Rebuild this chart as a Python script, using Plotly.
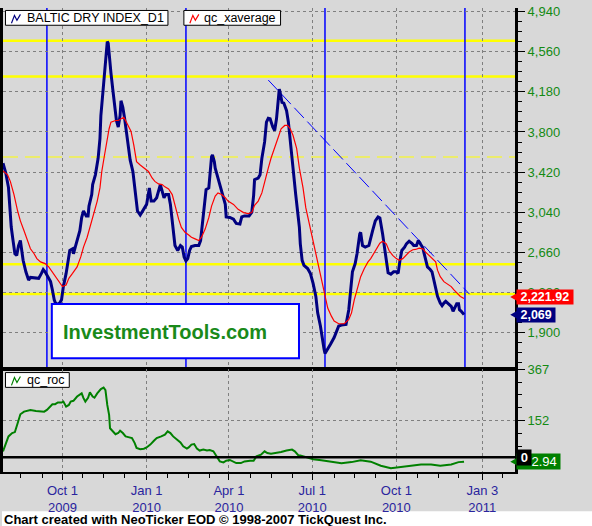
import plotly.graph_objects as go

W, H = 592, 526

# ---------------- data ----------------
bdi_dates = [
    "2009-07-28", "2009-07-31", "2009-08-03", "2009-08-04", "2009-08-06", "2009-08-08", "2009-08-10",
    "2009-08-12", "2009-08-14", "2009-08-16", "2009-08-17", "2009-08-19", "2009-08-22", "2009-08-25",
    "2009-08-27", "2009-08-31", "2009-09-05", "2009-09-08", "2009-09-10", "2009-09-12", "2009-09-15",
    "2009-09-18", "2009-09-20", "2009-09-22", "2009-09-24", "2009-09-28", "2009-09-30", "2009-10-02",
    "2009-10-05", "2009-10-07", "2009-10-09", "2009-10-12", "2009-10-13", "2009-10-15", "2009-10-17",
    "2009-10-20", "2009-10-22", "2009-10-24", "2009-10-27", "2009-10-29", "2009-10-30", "2009-11-02",
    "2009-11-03", "2009-11-06", "2009-11-09", "2009-11-11", "2009-11-12", "2009-11-14", "2009-11-16",
    "2009-11-18", "2009-11-19", "2009-11-20", "2009-11-21", "2009-11-23", "2009-11-25", "2009-11-27",
    "2009-11-29", "2009-12-01", "2009-12-03", "2009-12-04", "2009-12-06", "2009-12-08", "2009-12-10",
    "2009-12-12", "2009-12-14", "2009-12-17", "2009-12-20", "2009-12-22", "2009-12-25", "2009-12-29",
    "2010-01-01", "2010-01-04", "2010-01-06", "2010-01-09", "2010-01-12", "2010-01-16", "2010-01-18",
    "2010-01-20", "2010-01-22", "2010-01-25", "2010-01-27", "2010-01-29", "2010-01-30", "2010-02-01",
    "2010-02-04", "2010-02-07", "2010-02-09", "2010-02-11", "2010-02-13", "2010-02-15", "2010-02-17",
    "2010-02-19", "2010-02-23", "2010-02-27", "2010-03-01", "2010-03-03", "2010-03-05", "2010-03-07",
    "2010-03-10", "2010-03-11", "2010-03-13", "2010-03-14", "2010-03-16", "2010-03-17", "2010-03-19",
    "2010-03-22", "2010-03-25", "2010-03-28", "2010-03-29", "2010-04-02", "2010-04-06", "2010-04-09",
    "2010-04-13", "2010-04-15", "2010-04-18", "2010-04-23", "2010-04-26", "2010-04-28", "2010-04-29",
    "2010-05-03", "2010-05-05", "2010-05-07", "2010-05-10", "2010-05-12", "2010-05-14", "2010-05-16",
    "2010-05-19", "2010-05-21", "2010-05-23", "2010-05-25", "2010-05-26", "2010-05-27", "2010-05-29",
    "2010-05-31", "2010-06-03", "2010-06-05", "2010-06-07", "2010-06-09", "2010-06-11", "2010-06-13",
    "2010-06-15", "2010-06-17", "2010-06-18", "2010-06-20", "2010-06-22", "2010-06-26", "2010-06-29",
    "2010-07-02", "2010-07-05", "2010-07-07", "2010-07-10", "2010-07-12", "2010-07-14", "2010-07-15",
    "2010-07-18", "2010-07-21", "2010-07-25", "2010-07-27", "2010-07-30", "2010-08-02", "2010-08-07",
    "2010-08-10", "2010-08-12", "2010-08-14", "2010-08-17", "2010-08-19", "2010-08-22", "2010-08-23",
    "2010-08-25", "2010-08-28", "2010-09-01", "2010-09-03", "2010-09-05", "2010-09-08", "2010-09-11",
    "2010-09-13", "2010-09-14", "2010-09-16", "2010-09-18", "2010-09-20", "2010-09-22", "2010-09-25",
    "2010-09-28", "2010-10-01", "2010-10-03", "2010-10-05", "2010-10-07", "2010-10-10", "2010-10-12",
    "2010-10-15", "2010-10-18", "2010-10-20", "2010-10-23", "2010-10-25", "2010-10-27", "2010-10-30",
    "2010-10-31", "2010-11-02", "2010-11-04", "2010-11-07", "2010-11-09", "2010-11-11", "2010-11-13",
    "2010-11-15", "2010-11-18", "2010-11-20", "2010-11-22", "2010-11-24", "2010-11-27", "2010-11-30",
    "2010-12-02", "2010-12-04", "2010-12-06", "2010-12-08", "2010-12-09", "2010-12-11", "2010-12-14",
]
bdi_values = [
    3504, 3413, 3273, 3114, 2899, 2771, 2646,
    2631, 2724, 2771, 2712, 2584, 2475, 2397,
    2422, 2418, 2413, 2460, 2497, 2475, 2429,
    2382, 2303, 2210, 2163, 2179, 2210, 2335,
    2460, 2553, 2677, 2693, 2646, 2709, 2771,
    2864, 2990, 3051, 3005, 3005, 3098, 3207,
    3301, 3394, 3551, 3738, 3956, 4173, 4392,
    4610, 4657, 4641, 4516, 4360, 4205, 4049,
    3909, 3846, 3956, 4096, 4033, 3925, 3799,
    3644, 3535, 3425, 3207, 3051, 3014, 3067,
    3114, 3270, 3145, 3145, 3177, 3301, 3238,
    3177, 3207, 3207, 3114, 2958, 2834, 2724,
    2677, 2724, 2709, 2616, 2578, 2600, 2677,
    2715, 2724, 2724, 2771, 2927, 3114, 3254,
    3270, 3364, 3566, 3582, 3519, 3457, 3394,
    3301, 3207, 3114, 2995, 2990, 2974, 2933,
    2927, 2995, 3005, 3005, 3040, 3200, 3348,
    3364, 3394, 3551, 3706, 3893, 3930, 3925,
    3846, 3815, 3925, 4112, 4205, 4173, 4080,
    4074, 4002, 3893, 3706, 3551, 3394, 3207,
    3051, 2896, 2740, 2584, 2537, 2506, 2460,
    2366, 2242, 2086, 1961, 1836, 1742, 1702,
    1742, 1789, 1852, 1898, 1961, 1970, 1976,
    2116, 2335, 2475, 2553, 2646, 2834, 2849,
    2724, 2709, 2724, 2803, 2864, 2958, 2995,
    2985, 2943, 2834, 2709, 2584, 2466, 2453,
    2475, 2475, 2460, 2584, 2677, 2709, 2740,
    2765, 2746, 2724, 2724, 2771, 2746, 2703,
    2662, 2600, 2522, 2497, 2475, 2397, 2303,
    2242, 2179, 2154, 2179, 2195, 2172, 2148,
    2101, 2132, 2172, 2172, 2116, 2101, 2069,
]

avg_dates = [
    "2009-07-28", "2009-08-02", "2009-08-05", "2009-08-09", "2009-08-13", "2009-08-16", "2009-08-20",
    "2009-08-24", "2009-08-27", "2009-08-31", "2009-09-03", "2009-09-07", "2009-09-12", "2009-09-16",
    "2009-09-20", "2009-09-23", "2009-09-27", "2009-10-01", "2009-10-05", "2009-10-08", "2009-10-12",
    "2009-10-17", "2009-10-21", "2009-10-24", "2009-10-28", "2009-10-31", "2009-11-04", "2009-11-08",
    "2009-11-11", "2009-11-13", "2009-11-16", "2009-11-19", "2009-11-21", "2009-11-23", "2009-11-28",
    "2009-12-01", "2009-12-04", "2009-12-07", "2009-12-09", "2009-12-12", "2009-12-15", "2009-12-18",
    "2009-12-21", "2009-12-25", "2009-12-30", "2010-01-03", "2010-01-07", "2010-01-10", "2010-01-14",
    "2010-01-18", "2010-01-21", "2010-01-25", "2010-01-29", "2010-02-01", "2010-02-05", "2010-02-08",
    "2010-02-12", "2010-02-16", "2010-02-19", "2010-02-23", "2010-02-27", "2010-03-02", "2010-03-06",
    "2010-03-10", "2010-03-13", "2010-03-17", "2010-03-20", "2010-03-24", "2010-03-28", "2010-03-31",
    "2010-04-06", "2010-04-11", "2010-04-17", "2010-04-22", "2010-04-26", "2010-04-29", "2010-05-03",
    "2010-05-07", "2010-05-10", "2010-05-14", "2010-05-17", "2010-05-21", "2010-05-25", "2010-05-28",
    "2010-06-01", "2010-06-04", "2010-06-07", "2010-06-10", "2010-06-14", "2010-06-17", "2010-06-21",
    "2010-06-24", "2010-06-28", "2010-07-02", "2010-07-05", "2010-07-09", "2010-07-13", "2010-07-15",
    "2010-07-18", "2010-07-22", "2010-07-25", "2010-07-30", "2010-08-05", "2010-08-10", "2010-08-13",
    "2010-08-16", "2010-08-20", "2010-08-23", "2010-08-27", "2010-08-31", "2010-09-03", "2010-09-07",
    "2010-09-11", "2010-09-13", "2010-09-16", "2010-09-20", "2010-09-23", "2010-09-27", "2010-10-01",
    "2010-10-04", "2010-10-08", "2010-10-11", "2010-10-15", "2010-10-19", "2010-10-22", "2010-10-26",
    "2010-10-30", "2010-11-02", "2010-11-06", "2010-11-09", "2010-11-13", "2010-11-15", "2010-11-18",
    "2010-11-22", "2010-11-26", "2010-11-30", "2010-12-03", "2010-12-07", "2010-12-10", "2010-12-14",
]
avg_values = [
    3432, 3394, 3332, 3207, 3051, 2958, 2864,
    2771, 2693, 2646, 2600, 2569, 2553, 2522,
    2475, 2429, 2382, 2335, 2350, 2413, 2460,
    2522, 2616, 2709, 2803, 2896, 3020, 3145,
    3270, 3426, 3582, 3738, 3831, 3893, 3909,
    3909, 3925, 3940, 3909, 3862, 3806, 3675,
    3519, 3488, 3457, 3426, 3364, 3332, 3308,
    3301, 3280, 3261, 3207, 3098, 2974, 2896,
    2849, 2824, 2803, 2787, 2771, 2803, 2880,
    2990, 3098, 3192, 3223, 3207, 3177, 3145,
    3114, 3067, 3036, 3027, 3036, 3105, 3145,
    3223, 3332, 3457, 3551, 3644, 3753, 3831,
    3862, 3862, 3831, 3769, 3644, 3457, 3270,
    3083, 2927, 2771, 2631, 2491, 2350, 2242,
    2132, 2055, 2008, 1983, 1983, 2023, 2086,
    2210, 2335, 2429, 2506, 2569, 2600, 2662,
    2724, 2746, 2765, 2740, 2677, 2631, 2600,
    2584, 2600, 2631, 2662, 2684, 2687, 2700,
    2693, 2662, 2631, 2600, 2569, 2491, 2429,
    2382, 2360, 2335, 2303, 2272, 2242, 2221.92,
]

roc_dates = [
    "2009-07-28", "2009-07-31", "2009-08-03", "2009-08-07", "2009-08-10", "2009-08-13", "2009-08-16",
    "2009-08-20", "2009-08-24", "2009-08-27", "2009-09-02", "2009-09-07", "2009-09-11", "2009-09-14",
    "2009-09-18", "2009-09-20", "2009-09-23", "2009-09-26", "2009-09-30", "2009-10-02", "2009-10-05",
    "2009-10-08", "2009-10-10", "2009-10-13", "2009-10-17", "2009-10-21", "2009-10-22", "2009-10-24",
    "2009-10-26", "2009-10-29", "2009-10-31", "2009-11-03", "2009-11-05", "2009-11-08", "2009-11-10",
    "2009-11-12", "2009-11-15", "2009-11-17", "2009-11-19", "2009-11-21", "2009-11-22", "2009-11-25",
    "2009-11-28", "2009-12-01", "2009-12-03", "2009-12-06", "2009-12-09", "2009-12-12", "2009-12-16",
    "2009-12-19", "2009-12-21", "2009-12-25", "2009-12-29", "2010-01-01", "2010-01-05", "2010-01-09",
    "2010-01-12", "2010-01-17", "2010-01-21", "2010-01-24", "2010-01-27", "2010-01-30", "2010-02-03",
    "2010-02-07", "2010-02-10", "2010-02-14", "2010-02-16", "2010-02-19", "2010-02-22", "2010-02-25",
    "2010-02-28", "2010-03-04", "2010-03-08", "2010-03-11", "2010-03-15", "2010-03-19", "2010-03-22",
    "2010-03-26", "2010-03-29", "2010-04-02", "2010-04-06", "2010-04-09", "2010-04-14", "2010-04-18",
    "2010-04-24", "2010-04-28", "2010-05-01", "2010-05-06", "2010-05-10", "2010-05-13", "2010-05-17",
    "2010-05-23", "2010-05-28", "2010-06-03", "2010-06-09", "2010-06-12", "2010-06-16", "2010-06-18",
    "2010-06-24", "2010-07-02", "2010-07-11", "2010-07-22", "2010-08-02", "2010-08-13", "2010-08-23",
    "2010-09-03", "2010-09-14", "2010-09-25", "2010-10-06", "2010-10-17", "2010-10-28", "2010-11-08",
    "2010-11-18", "2010-11-30", "2010-12-08", "2010-12-14",
]
roc_values = [
    25, 53, 87, 101, 105, 142, 179,
    190, 195, 197, 193, 190, 190, 197,
    211, 221, 221, 228, 228, 232, 211,
    218, 232, 235, 253, 266, 266, 246,
    232, 248, 270, 253, 248, 266, 276,
    284, 290, 280, 218, 177, 121, 108,
    96, 101, 111, 101, 87, 84, 80,
    59, 39, 34, 36, 41, 53, 69,
    80, 87, 94, 108, 101, 87, 73,
    62, 46, 36, 41, 53, 55, 36,
    28, 32, 28, 30, 25, 4, -17,
    -21, -14, -11, -17, -24, -24, -17,
    -14, -14, 4, 11, 25, 18, 15,
    18, 22, 28, 32, 25, 8, 8,
    0, -8, -12, -20, -25, -20, -12,
    -18, -35, -45, -40, -35, -30, -30,
    -35, -30, -20, -18,
]

price_ticks = [1900, 2280, 2660, 3040, 3420, 3800, 4180, 4560, 4940]
roc_ticks = [152, 367]
x_tick_dates = ["2009-10-01", "2010-01-01", "2010-04-01", "2010-07-01", "2010-10-01", "2011-01-03"]
x_tick_text = ["Oct 1<br>2009", "Jan 1<br>2010", "Apr 1<br>2010", "Jul 1<br>2010", "Oct 1<br>2010", "Jan 3<br>2011"]
x_minor_dates = ["2009-08-16", "2009-09-09", "2009-10-23", "2009-11-15", "2009-12-08", "2010-01-24",
                 "2010-02-16", "2010-03-11", "2010-04-25", "2010-05-17", "2010-06-09", "2010-07-25",
                 "2010-08-16", "2010-09-08", "2010-10-24", "2010-11-16", "2010-12-08", "2011-01-25"]
yellow_levels = [4665, 4325, 2547, 2266]
yellow_dashed_level = 3563
cycle_dates = ["2009-09-14", "2010-02-13", "2010-07-15", "2010-12-15"]
trend_dates = ["2010-05-14", "2010-12-20"]
trend_values = [4292, 2263]
roc_last_label = "2.94"

x_range = ["2009-07-28", "2011-02-08"]
price_range = [1553, 4975]
roc_range = [-60, 367]

# ---------------- layout helpers ----------------
def px(x):
    return x / W

def py(y):
    return 1 - y / H

FONT = "Arial, Liberation Sans, sans-serif"
BG = "#d8d8d8"
GRID = "#7f7f7f"
AXIS_GREEN = "#138a13"
DATE_BLUE = "#2a249e"

fig = go.Figure()

fig.add_trace(go.Scatter(x=trend_dates, y=trend_values, mode="lines",
                         line=dict(color="#0000ff", width=1, dash="14px,5px"),
                         xaxis="x", yaxis="y", hoverinfo="skip"))
fig.add_trace(go.Scatter(x=bdi_dates, y=bdi_values, mode="lines",
                         line=dict(color="#000080", width=3),
                         xaxis="x", yaxis="y", name="BALTIC DRY INDEX_D1"))
fig.add_trace(go.Scatter(x=avg_dates, y=avg_values, mode="lines",
                         line=dict(color="#ff0000", width=1.2),
                         xaxis="x", yaxis="y", name="qc_xaverage"))
fig.add_trace(go.Scatter(x=roc_dates, y=roc_values, mode="lines",
                         line=dict(color="#008000", width=2),
                         xaxis="x2", yaxis="y2", name="qc_roc"))

shapes = []
# footer strip
shapes.append(dict(type="rect", xref="paper", yref="paper", x0=0, x1=1, y0=0, y1=py(511),
                   fillcolor="white", line=dict(width=0), layer="below"))
# yellow levels
for lv in yellow_levels:
    shapes.append(dict(type="line", xref="x domain", yref="y", x0=0, x1=1, y0=lv, y1=lv,
                       line=dict(color="#ffff00", width=2.5), layer="below"))
shapes.append(dict(type="line", xref="x domain", yref="y", x0=0, x1=1,
                   y0=yellow_dashed_level, y1=yellow_dashed_level,
                   line=dict(color="#ffff00", width=1, dash="15px,7px"), layer="below"))
# vertical cycle lines
for d in cycle_dates:
    shapes.append(dict(type="line", xref="x", yref="y domain", x0=d, x1=d, y0=0, y1=1,
                       line=dict(color="#0000ff", width=1.5), layer="below"))
# zero line of ROC panel
shapes.append(dict(type="line", xref="x2 domain", yref="y2", x0=0, x1=1, y0=0, y1=0,
                   line=dict(color="black", width=2.5)))
# legend boxes
for (x0, y0, x1, y1) in [(3.5, 3.5, 166.5, 18.5), (182.5, 3.5, 279.5, 18.5), (3.5, 370.5, 67.5, 385.5)]:
    shapes.append(dict(type="rect", xref="paper", yref="paper", x0=px(x0), x1=px(x1),
                       y0=py(y1), y1=py(y0), fillcolor="white", line=dict(color="black", width=1)))
# legend icons
def icon(x, y, color):
    pts = [(x, y + 5), (x + 3, y - 3), (x + 5.5, y + 2), (x + 9, y - 4)]
    path = "M " + " L ".join(f"{px(a):.5f},{py(b):.5f}" for a, b in pts)
    return dict(type="path", xref="paper", yref="paper", path=path, line=dict(color=color, width=1.2))
shapes.append(icon(9.5, 11.5, "#000080"))
shapes.append(icon(188.5, 11.5, "#ff0000"))
shapes.append(icon(9.5, 378.5, "#008000"))
# logo box
shapes.append(dict(type="rect", xref="paper", yref="paper", x0=px(50), x1=px(298), y0=py(356), y1=py(301),
                   fillcolor="white", line=dict(color="#0000ff", width=2)))

def price_to_px(v):
    return 1 + (price_range[1] - v) / (price_range[1] - price_range[0]) * (367 - 1)

def roc_to_px(v):
    return 367 + (roc_range[1] - v) / (roc_range[1] - roc_range[0]) * (471 - 367)

# badge arrows
def arrow(yc_px, color):
    path = (f"M {px(517):.5f},{py(yc_px - 4):.5f} L {px(510):.5f},{py(yc_px):.5f} "
            f"L {px(517):.5f},{py(yc_px + 4):.5f} Z")
    return dict(type="path", xref="paper", yref="paper", path=path, fillcolor=color, line=dict(width=0))

red_y = price_to_px(avg_values[-1]) - 1.5
navy_y = max(price_to_px(bdi_values[-1]), red_y + 18)
green_y = roc_to_px(roc_values[-1])
shapes.append(arrow(red_y, "#ff0000"))
shapes.append(arrow(navy_y, "#000080"))
shapes.append(arrow(green_y, "#008000"))

annotations = []
annotations.append(dict(x=px(23), y=py(11), xref="paper", yref="paper", text="BALTIC DRY INDEX_D1",
                        showarrow=False, xanchor="left", yanchor="middle",
                        font=dict(family=FONT, size=12.5, color="black")))
annotations.append(dict(x=px(201), y=py(11), xref="paper", yref="paper", text="qc_xaverage",
                        showarrow=False, xanchor="left", yanchor="middle",
                        font=dict(family=FONT, size=12.5, color="black")))
annotations.append(dict(x=px(23), y=py(378), xref="paper", yref="paper", text="qc_roc",
                        showarrow=False, xanchor="left", yanchor="middle",
                        font=dict(family=FONT, size=12.5, color="black")))
annotations.append(dict(x=px(164), y=py(329), xref="paper", yref="paper", text="<b>InvestmentTools.com</b>",
                        showarrow=False, xanchor="center", yanchor="middle",
                        font=dict(family=FONT, size=20, color="#1a8a1a")))
# value badges
annotations.append(dict(x=px(516), y=py(green_y), xref="paper", yref="paper",
                        text="&nbsp;&nbsp;&nbsp;&nbsp;" + roc_last_label + "&nbsp;", showarrow=False,
                        xanchor="left", yanchor="middle", bgcolor="#008000", borderpad=0,
                        font=dict(family=FONT, size=13, color="white")))
annotations.append(dict(x=px(516), y=py(roc_to_px(0)), xref="paper", yref="paper", text="&nbsp;<b>0</b>&nbsp;",
                        showarrow=False, xanchor="left", yanchor="middle", bgcolor="black", borderpad=0,
                        font=dict(family=FONT, size=13, color="white")))
annotations.append(dict(x=px(516), y=py(red_y), xref="paper", yref="paper",
                        text=f"&nbsp;<b>{avg_values[-1]:,.2f}</b>&nbsp;",
                        showarrow=False, xanchor="left", yanchor="middle", bgcolor="#ff0000", borderpad=0,
                        font=dict(family=FONT, size=12.5, color="white")))
annotations.append(dict(x=px(516), y=py(navy_y), xref="paper", yref="paper",
                        text=f"&nbsp;<b>{bdi_values[-1]:,}</b>&nbsp;",
                        showarrow=False, xanchor="left", yanchor="middle", bgcolor="#000080", borderpad=0,
                        font=dict(family=FONT, size=12.5, color="white")))
# footer
annotations.append(dict(x=0, y=py(519), xref="paper", yref="paper",
                        text="<b>Chart created with NeoTicker EOD © 1998-2007 TickQuest Inc.</b>",
                        showarrow=False, xanchor="left", yanchor="middle",
                        font=dict(family=FONT, size=13, color="black")))

xdom = [px(1), px(515)]
common_x = dict(type="date", range=x_range, domain=xdom, tickmode="array", tickvals=x_tick_dates,
                showgrid=True, gridcolor=GRID, griddash="3px,3px", gridwidth=1, zeroline=False,
                showline=True, linecolor="black", linewidth=2)

fig.update_layout(
    width=W, height=H, margin=dict(l=0, r=0, t=0, b=0),
    paper_bgcolor=BG, plot_bgcolor=BG, showlegend=False, hovermode=False,
    font=dict(family=FONT, size=13),
    xaxis=dict(**common_x, anchor="y", showticklabels=False, ticks="", mirror=False),
    xaxis2=dict(**common_x, anchor="y2", ticktext=x_tick_text, showticklabels=True, mirror=True,
                ticks="outside", ticklen=6, tickcolor="black", tickwidth=1,
                tickfont=dict(family=FONT, size=13, color=DATE_BLUE),
                minor=dict(tickmode="array", tickvals=x_minor_dates, ticks="outside", ticklen=4,
                           tickcolor="black", showgrid=False)),
    yaxis=dict(domain=[py(367), py(1)], range=price_range, side="right", anchor="x",
               tickmode="array", tickvals=price_ticks, ticktext=[f"{v:,}" for v in price_ticks],
               tickfont=dict(family=FONT, size=13, color=AXIS_GREEN),
               ticks="outside", ticklen=7, tickcolor="black", tickwidth=1,
               minor=dict(dtick=95, tick0=1900, ticks="outside", ticklen=4, tickcolor="black", showgrid=False),
               showgrid=True, gridcolor=GRID, griddash="3px,3px", gridwidth=1, zeroline=False,
               showline=True, linecolor="black", linewidth=2.5, mirror=True),
    yaxis2=dict(domain=[py(471), py(367)], range=roc_range, side="right", anchor="x2",
                tickmode="array", tickvals=roc_ticks, ticktext=[str(v) for v in roc_ticks],
                tickfont=dict(family=FONT, size=13, color=AXIS_GREEN),
                ticks="outside", ticklen=7, tickcolor="black", tickwidth=1,
                minor=dict(dtick=53.75, tick0=152, ticks="outside", ticklen=4, tickcolor="black", showgrid=False),
                showgrid=True, gridcolor=GRID, griddash="3px,3px", gridwidth=1, zeroline=False,
                showline=True, linecolor="black", linewidth=2.5, mirror=True),
    shapes=shapes, annotations=annotations,
)

fig.write_html("out.html", config={"displayModeBar": False},
               post_script="document.body.style.margin='0';document.body.style.padding='0';"
                           "document.body.style.overflow='hidden';")
